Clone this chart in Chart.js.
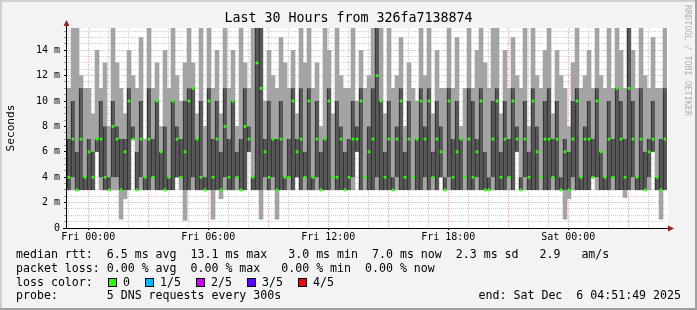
<!DOCTYPE html>
<html>
<head>
  <title>Last 30 Hours from 326fa7138874</title>
  <script src="https://cdn.jsdelivr.net/npm/chart.js"></script>
  <style>
    body { margin: 0; background: #f3f3f3; }
    #graph { display: block; }
  </style>
</head>
<body>
  <canvas id="graph" width="697" height="310"></canvas>
  <script>
    // one sample every 12 min, hours counted from Fri 00:00
    const startHour = -1.065;
    const stepHour = 0.2;

    // sorted pings per sample: fastest, 2nd, 4th, slowest (ms) and the median
    const pingMin = [
      3,3,3,3,3,3,3,6,3,3,  3,3,3,0.7,2.3,3,7,3,3,3,  3,3,3,3,3,3,3,4,3,0.6,
      3,3,3,3,3,3,0.7,3,2.3,3,  3,3,3,3,3,6,3,3,0.7,3,  3,3,0.7,3,3,3,3,4,3,3,
      3,3,3,3,3,3,3,3,3,3,  3,3,6,3,3,3,3,3,3,3,  3,3,3,3,3,3,3,3,3,3,
      3,3,3,4,3,3,3,3,3,3,  3,3,3,3,3,3,3,3,3,3,  3,3,6,3,3,3,3,3,3,3,
      3,3,3,3,0.7,2.3,3,3,3,3,  3,4,3,3,3,3,3,3,3,2.4,  3,3,3,3,3,3,6,3,0.7,3
    ];
    const pingLo = [
      3,4,3,3,3,3,3,6,4,3,  3,4,4,3,3,3,7,3,4,3,  3,4,3,3,3,3,3,4,4,3,
      3,4,3,3,3,3,3,3,3,4,  3,3,4,3,3,6,3,3,3,4,  3,4,3,3,3,4,3,4,3,4,
      3,3,4,3,3,3,4,3,3,3,  3,4,6,3,4,3,3,4,3,3,  3,3,4,3,3,3,4,3,3,4,
      3,4,3,4,3,4,3,3,3,4,  3,3,4,3,3,3,4,3,3,3,  4,3,6,3,4,3,3,3,4,3,
      3,4,3,3,3,3,4,3,3,3,  3,4,4,3,3,3,4,3,3,3,  3,4,3,3,3,4,6,3,3,3
    ];
    const pingHi = [
      7,10,6,11,4,7,6,7,10,8,  4,10,8,7,7,11,8,6,10,4,  11,7,10,6,8,4,10,8,7,10,
      11,11,7,10,4,11,7,10,6,11,  7,10,6,7,11,8,4,16,16,7,  10,7,7,10,4,7,11,7,11,6,
      11,4,10,6,7,11,4,10,8,6,  7,10,8,11,4,8,11,16,10,6,  10,4,8,11,6,10,4,7,11,8,
      11,6,10,8,4,11,7,10,7,4,  11,10,7,11,6,4,10,11,6,10,  7,11,8,4,10,6,11,8,4,10,
      11,7,10,4,7,6,10,11,4,8,  10,7,11,6,4,10,7,11,10,7,  16,10,4,11,6,7,10,4,7,11
    ];
    const pingMax = [
      11,16,16,12,11,11,9,14,11,13,  8,16,13,11,9,14,12,11,15,7,  16,11,13,8,14,11,16,12,10,13,
      16,13,9,16,8,16,11,14,9,16,  11,14,8,16,13,11,16,16,16,10,  14,12,11,15,13,11,14,9,16,13,
      16,11,13,8,16,14,9,16,12,11,  11,16,10,14,11,12,16,16,16,9,  16,11,12,15,8,13,11,10,16,12,
      16,9,14,11,11,16,11,15,8,11,  16,11,14,16,13,11,16,16,9,14,  11,15,12,11,16,8,16,12,11,14,
      16,9,14,12,11,8,13,16,11,12,  14,11,16,12,11,16,11,16,14,11,  16,14,11,16,12,11,15,11,11,16
    ];
    const pingMedian = [
      4,7,3,7,4,6,4,7,7,4,  3,8,7,3,6,10,7,3,7,4,  7,4,10,6,3,4,10,7,4,6,
      10,11,7,4,3,10,4,7,3,8,  4,10,4,3,8,7,4,13,11,6,  4,7,3,7,4,4,10,6,7,4,
      10,4,7,3,7,10,4,4,7,3,  4,7,7,10,4,6,7,12,10,4,  7,3,7,10,4,7,4,7,10,7,
      10,4,7,6,3,10,4,6,7,4,  7,4,6,10,3,3,7,10,4,7,  4,10,7,3,7,4,10,6,4,7,
      7,4,7,3,6,3,7,10,4,7,  7,4,10,6,4,7,4,11,7,4,  11,7,4,7,3,6,7,4,3,7
    ];

    const labelHours = [0, 6, 12, 18, 24];
    const labelText = ['Fri 00:00', 'Fri 06:00', 'Fri 12:00', 'Fri 18:00', 'Sat 00:00'];

    const legendLines = [
      'median rtt:  6.5 ms avg  13.1 ms max   3.0 ms min  7.0 ms now  2.3 ms sd   2.9   am/s',
      'packet loss: 0.00 % avg  0.00 % max   0.00 % min  0.00 % now',
      'loss color:',
      'probe:       5 DNS requests every 300s'
    ];
    const lossLabels = ['0', '1/5', '2/5', '3/5', '4/5'];
    const lossColors = ['#26ff00', '#00b8ff', '#d400ff', '#6000ff', '#ff0000'];
    const endText = 'end: Sat Dec  6 04:51:49 2025';

    const mono = '"DejaVu Sans Mono", monospace';
    const sampleHours = pingMin.map((v, i) => startHour + (i + 0.5) * stepHour);
    const outerPts = sampleHours.map((h, i) => ({x: h, y: [pingMin[i], pingMax[i]]}));
    const innerPts = sampleHours.map((h, i) => ({x: h, y: [pingLo[i], pingHi[i]]}));
    const medPts = sampleHours.map((h, i) => ({x: h, y: [pingMedian[i] - 0.11, pingMedian[i] + 0.11]}));

    const hourTicks = [];
    for (let h = Math.ceil(startHour); h <= startHour + 30; h++) hourTicks.push(h);
    const msTicks = [];
    for (let v = 0; v <= 15.5; v += 0.5) msTicks.push(v);

    const majorGrid = 'rgba(255, 0, 0, 0.33)';
    const minorGrid = '#cfcfcf';

    const decor = {
      id: 'decor',
      beforeDraw(chart) {
        const {ctx, chartArea: a} = chart;
        ctx.save();
        ctx.fillStyle = '#f3f3f3';
        ctx.fillRect(0, 0, chart.width, chart.height);
        ctx.fillStyle = '#ffffff';
        ctx.fillRect(a.left, a.top, a.right - a.left + 1, a.bottom - a.top);
        ctx.fillStyle = '#cfcfcf';
        ctx.fillRect(0, 0, chart.width, 2);
        ctx.fillRect(0, 0, 2, chart.height);
        ctx.fillStyle = '#9e9e9e';
        ctx.fillRect(0, chart.height - 2, chart.width, 2);
        ctx.fillRect(chart.width - 2, 0, 2, chart.height);
        ctx.restore();
      },
      afterDraw(chart) {
        const {ctx, chartArea: a} = chart;
        ctx.save();
        // axes with arrows
        ctx.strokeStyle = '#000';
        ctx.lineWidth = 1;
        ctx.beginPath();
        ctx.moveTo(a.left - 0.5, a.bottom + 1);
        ctx.lineTo(a.left - 0.5, a.top - 2);
        ctx.moveTo(a.left - 4, a.bottom + 0.5);
        ctx.lineTo(a.right + 2, a.bottom + 0.5);
        ctx.stroke();
        ctx.fillStyle = '#9a1f1f';
        ctx.beginPath();
        ctx.moveTo(a.left - 3.5, a.top - 2);
        ctx.lineTo(a.left + 2.5, a.top - 2);
        ctx.lineTo(a.left - 0.5, a.top - 8);
        ctx.closePath();
        ctx.fill();
        ctx.beginPath();
        ctx.moveTo(a.right + 1, a.bottom - 2.5);
        ctx.lineTo(a.right + 1, a.bottom + 3.5);
        ctx.lineTo(a.right + 7, a.bottom + 0.5);
        ctx.closePath();
        ctx.fill();

        // title
        ctx.fillStyle = '#000';
        ctx.font = '13.3px ' + mono;
        ctx.textAlign = 'center';
        ctx.textBaseline = 'middle';
        ctx.fillText('Last 30 Hours from 326fa7138874', chart.width / 2, 19);

        // y title
        ctx.save();
        ctx.translate(11, (a.top + a.bottom) / 2);
        ctx.rotate(-Math.PI / 2);
        ctx.font = '11.2px ' + mono;
        ctx.fillText('Seconds', 0, 0);
        ctx.restore();

        // watermark
        ctx.save();
        ctx.translate(687, 5);
        ctx.rotate(Math.PI / 2);
        ctx.font = '8.4px ' + mono;
        ctx.fillStyle = '#b0b0b0';
        ctx.textAlign = 'left';
        ctx.fillText('RRDTOOL / TOBI OETIKER', 0, 0);
        ctx.restore();

        // legend
        ctx.font = '11.6px ' + mono;
        ctx.textAlign = 'left';
        const rows = [254.5, 268.5, 282.5, 296];
        legendLines.forEach((t, i) => ctx.fillText(t, 16, rows[i]));
        const boxX = [108, 145, 196, 247, 298];
        lossLabels.forEach((t, i) => {
          ctx.fillStyle = lossColors[i];
          ctx.fillRect(boxX[i], 278, 9, 9);
          ctx.strokeStyle = '#000';
          ctx.strokeRect(boxX[i] + 0.5, 278.5, 8, 8);
          ctx.fillStyle = '#000';
          ctx.fillText(t, boxX[i] + 15, rows[2]);
        });
        ctx.textAlign = 'right';
        ctx.fillText(endText, 681, rows[3]);
        ctx.restore();
      }
    };

    new Chart(document.getElementById('graph'), {
      type: 'bar',
      data: {
        datasets: [
          {
            label: 'median',
            data: medPts,
            backgroundColor: lossColors[0],
            barPercentage: 0.7,
            categoryPercentage: 1,
            grouped: false,
            order: 0
          },
          {
            label: 'inner smoke',
            data: innerPts,
            backgroundColor: '#585858',
            borderColor: '#242424',
            borderWidth: {left: 1, right: 0, top: 0, bottom: 0},
            borderSkipped: false,
            barPercentage: 1,
            categoryPercentage: 1,
            grouped: false,
            order: 1
          },
          {
            label: 'outer smoke',
            data: outerPts,
            backgroundColor: '#a4a4a4',
            barPercentage: 1,
            categoryPercentage: 1,
            grouped: false,
            order: 2
          }
        ]
      },
      options: {
        responsive: false,
        animation: false,
        devicePixelRatio: 1,
        layout: { padding: { top: 28, right: 30, left: 0, bottom: 0 } },
        plugins: { legend: { display: false }, tooltip: { enabled: false } },
        scales: {
          x: {
            type: 'linear',
            min: startHour,
            max: startHour + 30,
            offset: false,
            z: 1,
            afterBuildTicks: s => { s.ticks = hourTicks.map(v => ({value: v})); },
            afterFit: s => { s.height = 82; },
            grid: {
              offset: false,
              color: c => (c.tick && c.tick.value % 3 === 0) ? majorGrid : minorGrid,
              tickLength: 2,
              tickColor: c => (c.tick && labelHours.includes(c.tick.value)) ? '#000' : 'rgba(0,0,0,0)'
            },
            border: { display: false, dash: [1, 1] },
            ticks: {
              autoSkip: false,
              maxRotation: 0,
              padding: 1,
              color: '#000',
              font: { family: mono, size: 10 },
              callback: v => {
                const k = labelHours.indexOf(v);
                return k >= 0 ? labelText[k] : '';
              }
            }
          },
          y: {
            min: 0,
            max: 15.75,
            z: 1,
            afterBuildTicks: s => { s.ticks = msTicks.map(v => ({value: v})); },
            afterFit: s => { s.width = 67; },
            grid: {
              color: c => {
                const v = c.tick ? c.tick.value : 1;
                if (v === 0) return 'rgba(0,0,0,0)';
                return v % 2 === 0 ? majorGrid : minorGrid;
              },
              tickLength: 3,
              tickColor: c => (c.tick && c.tick.value % 2 === 0) ? '#000' : '#999'
            },
            border: { display: false, dash: [1, 1] },
            ticks: {
              autoSkip: false,
              padding: 4,
              color: '#000',
              font: { family: mono, size: 10 },
              callback: v => v % 2 === 0 ? (v === 0 ? '0' : v + ' m') : ''
            }
          }
        }
      },
      plugins: [decor]
    });
  </script>
</body>
</html>
